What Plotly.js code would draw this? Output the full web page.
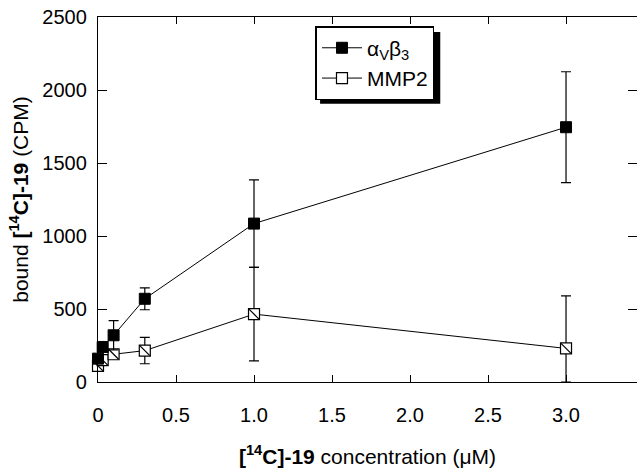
<!DOCTYPE html>
<html>
<head>
<meta charset="utf-8">
<script src="https://cdn.plot.ly/plotly-3.0.1.min.js"></script>
<style>html,body{margin:0;padding:0;background:#fff;}#chart{width:637px;height:473px;}</style>
</head>
<body>
<div id="chart"></div>
<script>
// Data
const avConc = [0, 0.03, 0.1, 0.3, 1.0, 3.0];
const avBound = [160, 240, 320, 570, 1085, 1745];
const avErr = [0, 0, 100, 75, 300, 380];

const mmpConc = [0, 0.03, 0.1, 0.3, 1.0, 3.0];
const mmpBound = [110, 150, 190, 215, 465, 230];
const mmpErrPlus = [0, 0, 0, 90, 320, 360];
const mmpErrMinus = [0, 0, 0, 90, 320, 230];

const xTickVals = [0, 0.5, 1.0, 1.5, 2.0, 2.5, 3.0];
const xTickText = ['0', '0.5', '1.0', '1.5', '2.0', '2.5', '3.0'];
const yTickVals = [0, 500, 1000, 1500, 2000, 2500];
const yTickText = ['0', '500', '1000', '1500', '2000', '2500'];

const FONT = '"Liberation Sans", Arial, Helvetica, sans-serif';

const traces = [
  {
    x: mmpConc, y: mmpBound, name: 'MMP2', type: 'scatter', mode: 'lines+markers', cliponaxis: false,
    line: {color: '#000', width: 1},
    marker: {symbol: 'square', size: 11, color: '#fff', line: {color: '#000', width: 1.2}},
    error_y: {type: 'data', symmetric: false, array: mmpErrPlus, arrayminus: mmpErrMinus, visible: true, color: '#000', thickness: 1.2, width: 5}
  },
  {
    x: mmpConc, y: mmpBound, name: 'MMP2 diag', type: 'scatter', mode: 'markers', showlegend: false, cliponaxis: false,
    marker: {symbol: 'line-nw', size: 10, color: '#000', line: {color: '#000', width: 1.2}},
    hoverinfo: 'skip'
  },
  {
    x: avConc, y: avBound, name: '\u03b1<sub>V</sub>\u03b2<sub>3</sub>', type: 'scatter', mode: 'lines+markers', cliponaxis: false,
    line: {color: '#000', width: 1},
    marker: {symbol: 'square', size: 11, color: '#000', line: {color: '#000', width: 1}},
    error_y: {type: 'data', array: avErr, visible: true, color: '#000', thickness: 1.2, width: 5}
  }
];

const layout = {
  width: 637, height: 473,
  margin: {l: 98, r: 0, t: 17, b: 91, pad: 0},
  paper_bgcolor: '#fff', plot_bgcolor: '#fff',
  font: {family: FONT, color: '#000', size: 20},
  showlegend: true,
  legend: {
    x: 0.4035, y: 0.975, xanchor: 'left', yanchor: 'top',
    traceorder: 'reversed',
    bgcolor: '#fff', bordercolor: '#000', borderwidth: 1.5,
    font: {family: FONT, size: 21, color: '#000'},
    itemwidth: 40, tracegroupgap: 0
  },
  xaxis: {
    range: [0, 3.455], tickmode: 'array', tickvals: xTickVals, ticktext: xTickText,
    ticks: 'inside', ticklen: 7, tickwidth: 1, tickcolor: '#000',
    showline: true, linecolor: '#000', linewidth: 1.2, mirror: 'ticks',
    showgrid: false, zeroline: false, ticklabelstandoff: 15,
    tickfont: {family: FONT, size: 20, color: '#000'},
    title: {text: '<b>[<sup>14</sup>C]-19</b> concentration (\u03bcM)', font: {family: FONT, size: 21, color: '#000'}, standoff: 24}
  },
  yaxis: {
    range: [0, 2500], tickmode: 'array', tickvals: yTickVals, ticktext: yTickText,
    ticks: 'inside', ticklen: 9, tickwidth: 1, tickcolor: '#000',
    showline: true, linecolor: '#000', linewidth: 1.2, mirror: 'ticks',
    showgrid: false, zeroline: false, ticklabelstandoff: 6,
    tickfont: {family: FONT, size: 20, color: '#000'},
    title: {text: 'bound <b>[<sup>14</sup>C]-19</b> (CPM)', font: {family: FONT, size: 21, color: '#000'}, standoff: 8}
  },
  shapes: [
    {type: 'rect', xref: 'paper', yref: 'paper', layer: 'above',
     x0: 0.412, x1: 0.6350, y0: 0.762, y1: 0.959,
     fillcolor: '#000', line: {width: 0}}
  ]
};

Plotly.newPlot('chart', traces, layout, {displayModeBar: false, staticPlot: true});
</script>
</body>
</html>
